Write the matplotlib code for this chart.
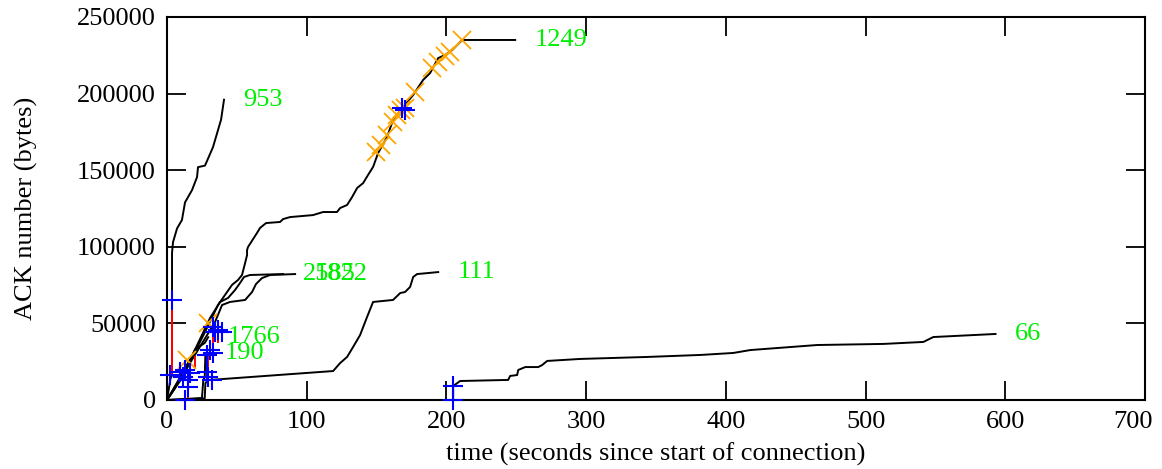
import matplotlib
matplotlib.use('Agg')
import matplotlib.pyplot as plt
import matplotlib.transforms as mtransforms

plt.rcParams['font.family'] = ['Liberation Serif', 'DejaVu Serif']

# ---- data (time in s, ACK number in bytes) ----
t_953 = [0, 2.5, 3.6, 3.6, 3.6, 4.3, 7.2, 10.7, 12.9, 17.9, 21.5, 22.2, 27.2, 32.9, 38.7, 40.8]
ack_953 = [0, 14000, 16000, 65000, 96000, 103000, 112000, 117500, 129000, 137000, 145500,
           152000, 153000, 165000, 183000, 196000]

t_1249 = [0, 5.7, 12.9, 20.0, 27.2, 36.5, 43.0, 46.5, 50.8, 53.7, 55.9, 57.3, 57.3, 58.0,
          64.4, 66.6, 70.9, 80.9, 83.1, 88.1, 104.5, 111.7, 121.7, 123.9, 128.9, 132.5,
          136.1, 140.4, 143.9, 147.5, 151.1, 157.5, 161.8, 169.0, 176.2, 183.3, 188.3,
          194.1, 199.1, 204.1, 211.3, 249.2]
ack_1249 = [0, 7800, 20900, 31300, 44400, 62000, 70500, 75100, 78300, 81600, 89400, 94600,
            97900, 99900, 109000, 112300, 115500, 116200, 118100, 119400, 120700, 122700,
            122700, 125300, 127300, 132500, 138400, 141600, 146900, 152100, 161200, 171700,
            182800, 191200, 199100, 208900, 213400, 223200, 225200, 228400, 235000, 235000]

t_2585 = [0, 16.5, 30.8, 38.0, 43.7, 48.7, 52.3, 55.1, 59.4, 83.1]
ack_2585 = [0, 26100, 53500, 64000, 66600, 71800, 76400, 80300, 81600, 82200]

t_1822 = [0, 20.0, 34.4, 39.4, 45.1, 55.9, 60.9, 63.7, 68.0, 73.8, 91.7]
ack_1822 = [0, 29400, 50900, 62000, 64000, 65300, 70500, 75700, 79600, 81600, 82200]

t_1766 = [0, 9, 15, 20, 27, 29.5]
ack_1766 = [0, 12000, 22000, 33000, 37200, 41000]

t_190 = [0, 25, 26, 27, 27.5]
ack_190 = [0, 1300, 13000, 15000, 30700]

t_111 = [0, 27, 27.5, 29.4, 118.9, 123.9, 128.9, 133.2, 138.2, 143.2, 147.5, 161.8, 166.9,
         170.4, 174.0, 176.2, 179.0, 194.1]
ack_111 = [0, 1000, 11000, 13000, 18900, 24100, 28100, 34600, 42400, 54200, 64000, 65300,
           69800, 70500, 73800, 80300, 82200, 83500]

t_66 = [95, 204.8, 204.8, 209.8, 244.2, 245.6, 250.6, 251.4, 256.4, 265.7, 268.5, 272.1,
        295.8, 343.7, 381.7, 405.3, 417.5, 465.5, 512.7, 541.4, 548.5, 593]
ack_66 = [0, 0, 9100, 12400, 13100, 15700, 16300, 19600, 21500, 21500, 22800, 25500, 26800,
          28100, 29400, 30700, 32600, 35900, 36600, 37900, 41100, 43100]

conn_names = ['953', '1249', '2585', '1822', '1766', '190', '111', '66']
conn_t = [t_953, t_1249, t_2585, t_1822, t_1766, t_190, t_111, t_66]
conn_ack = [ack_953, ack_1249, ack_2585, ack_1822, ack_1766, ack_190, ack_111, ack_66]

# red retransmission segments
red_t = [3.6, 32.9, 36.5, 29.4, 204.8, 168.3, 15.0, 20.0]
red_lo = [16000, 29400, 37200, 15000, 0, 188500, 1000, 21000]
red_hi = [65000, 47600, 50900, 29400, 9100, 192000, 13000, 29000]

# blue '+' marks
blue_t = [3.6, 2.1, 9.3, 12.9, 16.5, 11.5, 15.0, 15.0, 13.0, 28.6, 29.4, 32.2, 30.8, 32.9,
          28.6, 32.9, 36.5, 39.4, 34.4, 204.8, 204.8, 168.3, 170.0]
blue_ack = [65300, 16300, 18300, 19600, 17600, 15000, 13100, 8500, 0, 18300, 15000, 13100,
            32600, 30700, 29400, 47600, 45700, 44400, 44400, 9100, 0, 190600, 189000]

# orange 'x' marks
orange_t = [14.3, 29.4, 149.7, 153.2, 157.5, 161.8, 164.7, 167.6, 170.4, 177.6, 189.8,
            194.1, 199.1, 202.6, 211.3]
orange_ack = [26100, 50300, 161900, 166400, 173000, 181500, 186000, 189300, 190600, 201000,
              216700, 220600, 224500, 227100, 235000]

x_ticks = [0, 100, 200, 300, 400, 500, 600, 700]
y_ticks = [0, 50000, 100000, 150000, 200000, 250000]

# ---- figure ----
fig = plt.figure(figsize=(11.62, 4.69), dpi=100)
ax = fig.add_axes([167 / 1162, 1 - 400 / 469, (1145 - 167) / 1162, (400 - 17) / 469])

for t, a in zip(conn_t, conn_ack):
    ax.plot(t, a, color='black', lw=1.4, zorder=2)

ax.vlines(red_t, red_lo, red_hi, colors='#ff0000', lw=1.4, zorder=3)

ax.plot(orange_t, orange_ack, linestyle='none', marker='x', ms=13, mew=1.3,
        color='#ffa500', zorder=4, clip_on=False)
ax.plot(blue_t, blue_ack, linestyle='none', marker='+', ms=15, mew=1.5,
        color='#0000ff', zorder=5, clip_on=False)

label_offset = 14
for name, t, a in zip(conn_names, conn_t, conn_ack):
    ax.text(t[-1] + label_offset, a[-1], name, color='#00ee00', fontsize=19,
            va='center', ha='left', zorder=6)

ax.set_xlim(0, 700)
ax.set_ylim(0, 250000)
ax.set_xticks(x_ticks)
ax.set_yticks(y_ticks)
ax.set_xticklabels([str(v) for v in x_ticks])
ax.set_yticklabels([str(v) for v in y_ticks])

ax.tick_params(direction='in', length=14, width=1.3, top=True, right=True, labelsize=19)
ax.tick_params(axis='y', pad=8)
ax.tick_params(axis='x', pad=8)
for s in ax.spines.values():
    s.set_linewidth(1.5)

# shift the last x tick label left so it stays inside the figure
last = ax.get_xticklabels()[-1]
last.set_transform(last.get_transform() +
                   mtransforms.ScaledTranslation(-12 / 100, 0, fig.dpi_scale_trans))

ax.set_xlabel('time (seconds since start of connection)', fontsize=19, labelpad=7)
ax.set_ylabel('ACK number (bytes)', fontsize=19, labelpad=28)

fig.savefig('out.png', dpi=100)
